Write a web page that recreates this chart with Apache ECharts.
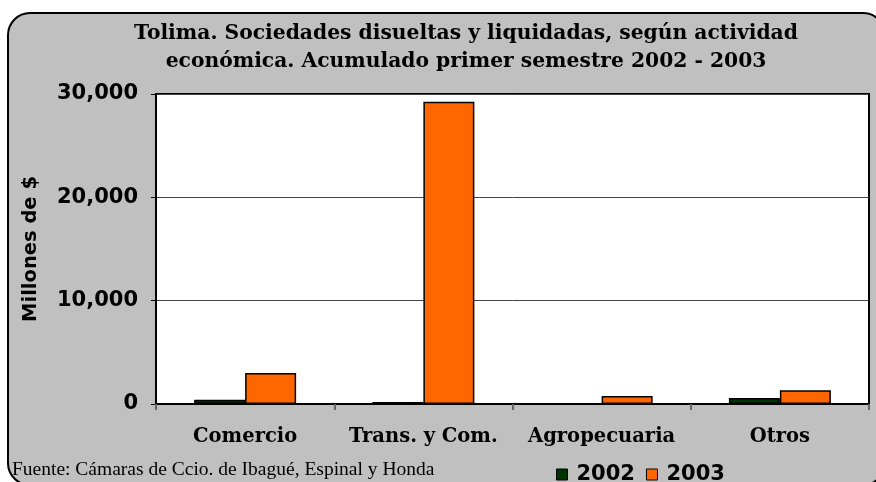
<!DOCTYPE html>
<html lang="es">
<head>
    <meta charset="UTF-8">
    <title>Tolima - Sociedades disueltas y liquidadas</title>
    <script src="https://cdn.jsdelivr.net/npm/echarts@6/dist/echarts.min.js"></script>
</head>

<style>
    body {
        margin: 0;
        background: #ffffff;
    }
</style>

<body>
    <div id="Chart1" style="width: 876px; height: 482px;"></div>
</body>

<script>

// data (millones de $)
const categories = ['Comercio', 'Trans. y Com.', 'Agropecuaria', 'Otros'];
const values2002 = [400, 200, 0, 580];
const values2003 = [3000, 29250, 780, 1320];
const yTicks = [0, 10000, 20000, 30000];

const titleText = 'Tolima. Sociedades disueltas y liquidadas, según actividad\neconómica. Acumulado primer semestre 2002 - 2003';
const sourceText = 'Fuente: Cámaras de Ccio. de Ibagué, Espinal y Honda';

let myChart1 = echarts.init(document.getElementById('Chart1'));

function addCommas(v) {
    return String(v).replace(/\B(?=(\d{3})+(?!\d))/g, ',');
}

var option = {
    backgroundColor: '#ffffff',
    animation: false,
    graphic: [
        {
            type: 'rect',
            z: -10,
            shape: { x: 8, y: 13, width: 877, height: 472, r: 22 },
            style: { fill: '#c0c0c0', stroke: '#000', lineWidth: 2 }
        },
        {
            // two-line title, centred a bit right of the page centre
            type: 'text',
            x: 466,
            y: 20,
            style: {
                text: titleText,
                textAlign: 'center',
                fill: '#000',
                font: 'bold 20.3px "DejaVu Serif"',
                lineHeight: 28
            }
        },
        {
            type: 'text',
            x: 12,
            y: 460,
            style: {
                text: sourceText,
                fill: '#000',
                font: '19.5px "Liberation Serif"'
            }
        }
    ],
    legend: {
        left: 551,
        top: 459,
        icon: 'rect',
        itemWidth: 11,
        itemHeight: 11,
        itemGap: 11,
        itemStyle: { borderColor: '#000', borderWidth: 1 },
        textStyle: {
            fontFamily: 'DejaVu Sans',
            fontWeight: 'bold',
            fontSize: 21,
            color: '#000',
            padding: [0, 0, 0, 4]
        },
        data: ['2002', '2003']
    },
    grid: {
        left: 156,
        right: 7,
        top: 94,
        bottom: 78,
        show: true,
        backgroundColor: '#ffffff',
        borderColor: '#000',
        borderWidth: 2
    },
    xAxis: {
        type: 'category',
        data: categories,
        axisLine: { lineStyle: { color: '#000', width: 2 } },
        axisTick: {
            show: true,
            interval: 0,
            length: 6,
            lineStyle: { color: '#666', width: 2 }
        },
        axisLabel: {
            interval: 0,
            margin: 23,
            fontFamily: 'DejaVu Serif',
            fontWeight: 'bold',
            fontSize: 19.5,
            color: '#000'
        }
    },
    yAxis: {
        type: 'value',
        min: yTicks[0],
        max: yTicks[yTicks.length - 1],
        interval: yTicks[1] - yTicks[0],
        name: 'Millones de $',
        nameLocation: 'middle',
        nameGap: 115,
        nameTextStyle: {
            fontFamily: 'DejaVu Sans',
            fontWeight: 'bold',
            fontSize: 19.5,
            color: '#000'
        },
        axisLine: { show: true, lineStyle: { color: '#000', width: 2 } },
        axisTick: { show: true, length: 5, lineStyle: { color: '#000', width: 1 } },
        axisLabel: {
            margin: 18,
            fontFamily: 'DejaVu Sans',
            fontWeight: 'bold',
            fontSize: 21,
            color: '#000',
            formatter: addCommas
        },
        splitLine: { lineStyle: { color: '#444', width: 1 } }
    },
    series: [
        {
            name: '2002',
            type: 'bar',
            data: values2002,
            barWidth: 51,
            barGap: '0%',
            itemStyle: { color: '#003300', borderColor: '#000', borderWidth: 1.5 }
        },
        {
            name: '2003',
            type: 'bar',
            data: values2003,
            barWidth: 51,
            itemStyle: { color: '#ff6600', borderColor: '#000', borderWidth: 1.5 }
        }
    ]
};

myChart1.setOption(option, true);

</script>

</html>
